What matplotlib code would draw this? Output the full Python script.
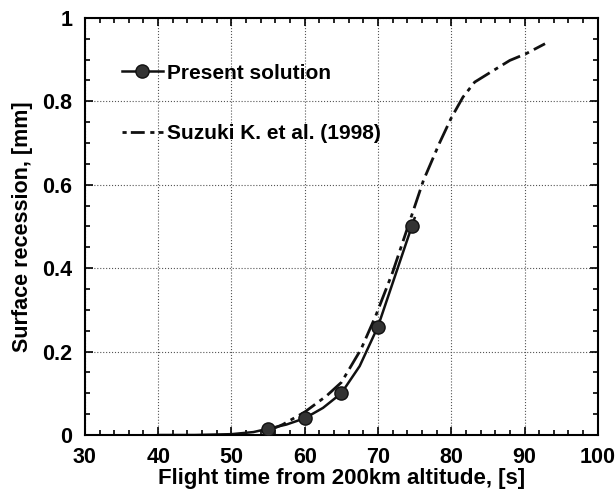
import numpy as np
import matplotlib.pyplot as plt
from matplotlib.ticker import MultipleLocator

plt.rcParams['font.family'] = ['Liberation Sans', 'DejaVu Sans']
plt.rcParams['font.weight'] = 'bold'

# present solution: markers and the curve through them
present_t = [55, 60, 65, 70, 74.7]
present_r = [0.015, 0.04, 0.10, 0.26, 0.50]
present_curve_t = [40, 45, 50, 53, 55, 57.5, 60, 62.5, 65, 67.5, 70, 72.5, 75]
present_curve_r = [0.0, 0.0, 0.002, 0.007, 0.015, 0.025, 0.04, 0.065, 0.10, 0.165, 0.26, 0.39, 0.52]

# Suzuki K. et al. (1998)
suzuki_t = [55, 57, 60, 63, 65, 67.7, 69.7, 72, 74.1, 76.2, 78.4, 80, 81.6, 83.2, 85.4, 88, 90.2, 92.8]
suzuki_r = [0.01, 0.025, 0.055, 0.094, 0.126, 0.206, 0.286, 0.39, 0.50, 0.61, 0.70, 0.76, 0.81,
            0.846, 0.87, 0.898, 0.914, 0.938]

fig = plt.figure(figsize=(6.15, 4.96), dpi=100)
ax = fig.add_axes([0.138, 0.123, 0.834, 0.841])

ax.plot(present_curve_t, present_curve_r, color='#111111', lw=1.8)
ax.plot(present_t, present_r, 'o', color='#333333', mec='#111111', ms=9.5, zorder=3)
ax.plot(suzuki_t, suzuki_r, color='#111111', lw=2.0, dashes=(7, 2, 1.5, 2))

# legend drawn as proxy entries
h1, = ax.plot([], [], '-o', color='#111111', mfc='#333333', ms=9.5, lw=1.8)
h2, = ax.plot([], [], color='#111111', lw=2.0, dashes=(1.5, 1.5, 5, 2))
ax.legend([h1, h2], ['Present solution', 'Suzuki K. et al. (1998)'],
          loc='upper left', bbox_to_anchor=(0.035, 0.935), frameon=False,
          fontsize=15, handlelength=2.0, handletextpad=0.2, labelspacing=2.0)

ax.set_xlim(30, 100)
ax.set_ylim(0, 1)
ax.xaxis.set_minor_locator(MultipleLocator(2))
ax.yaxis.set_minor_locator(MultipleLocator(0.05))
ax.set_xticks([30, 40, 50, 60, 70, 80, 90, 100])
ax.set_xticklabels(['30', '40', '50', '60', '70', '80', '90', '100'])
ax.set_yticks([0, 0.2, 0.4, 0.6, 0.8, 1.0])
ax.set_yticklabels(['0', '0.2', '0.4', '0.6', '0.8', '1'])
ax.tick_params(which='both', direction='in', top=True, right=True, width=1.2)
ax.tick_params(which='major', length=6, labelsize=15.5)
ax.tick_params(axis='y', which='major', pad=9)
ax.tick_params(axis='x', which='major', pad=9)
ax.tick_params(which='minor', length=3.5)
for s in ax.spines.values():
    s.set_linewidth(1.5)
ax.grid(True, which='major', linestyle=':', color='#555555', lw=0.8)

ax.set_xlabel('Flight time from 200km altitude, [s]', fontsize=16, fontweight='bold', labelpad=0)
ax.set_ylabel('Surface recession, [mm]', fontsize=15.5, fontweight='bold', labelpad=7)

fig.savefig('out.png', dpi=100)
